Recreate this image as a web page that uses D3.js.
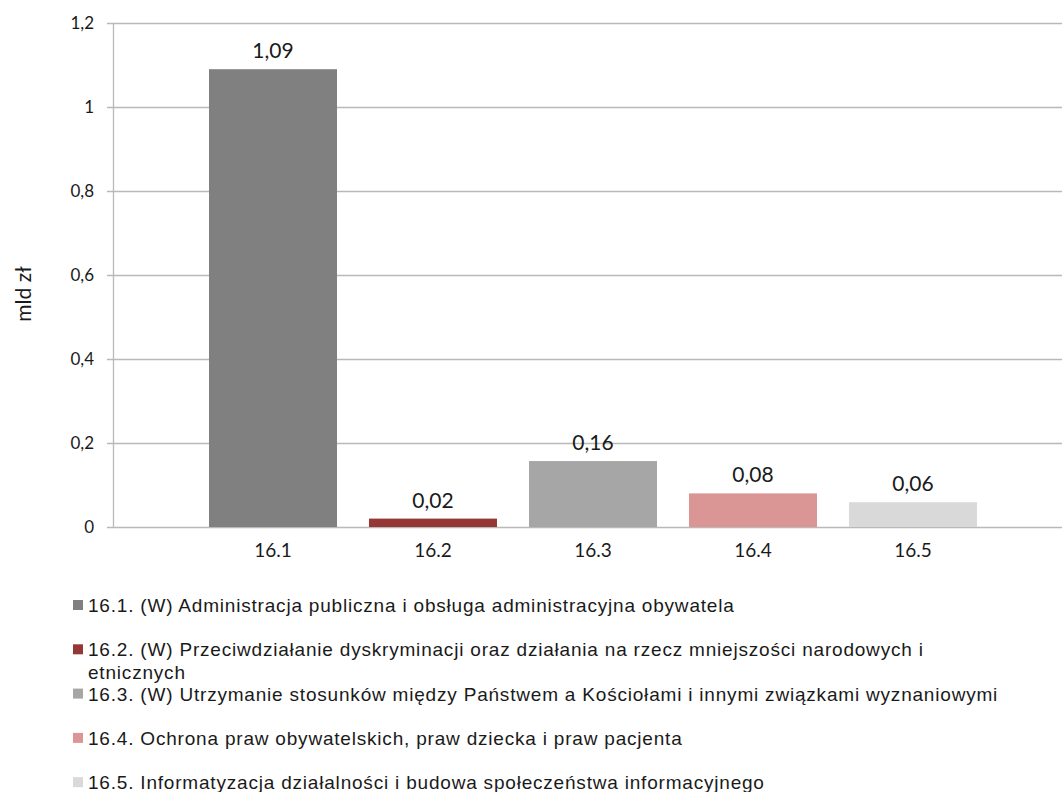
<!DOCTYPE html>
<html><head><meta charset="utf-8">
<script src="https://cdn.jsdelivr.net/npm/d3@7"></script>
<style>body{margin:0;background:#fff}svg{display:block}</style>
</head><body>
<svg id="c" width="1062" height="792"></svg>
<script>
const categories = ["16.1","16.2","16.3","16.4","16.5"];
const values = [1.09, 0.02, 0.157, 0.08, 0.059];
const valueLabels = ["1,09","0,02","0,16","0,08","0,06"];
const colors = ["#808080","#953735","#a6a6a6","#d99694","#d9d9d9"];
const yTicks = [0,0.2,0.4,0.6,0.8,1,1.2];
const yTickLabels = ["0","0,2","0,4","0,6","0,8","1","1,2"];
const legendLabels = [
  ["16.1. (W) Administracja publiczna i obsługa administracyjna obywatela"],
  ["16.2. (W) Przeciwdziałanie dyskryminacji oraz działania na rzecz mniejszości narodowych i","etnicznych"],
  ["16.3. (W) Utrzymanie stosunków między Państwem a Kościołami i innymi związkami wyznaniowymi"],
  ["16.4. Ochrona praw obywatelskich, praw dziecka i praw pacjenta"],
  ["16.5. Informatyzacja działalności i budowa społeczeństwa informacyjnego"]
];
const yTitle = "mld zł";

(function(){
const svg = d3.select("#c");
const pL = 113, pR = 1062, pT = 23, pB = 527;
const y = d3.scaleLinear().domain([0,1.2]).range([pB, pT]);
const x = d3.scaleBand().domain(categories).range([193, 993]).paddingInner(0.2).paddingOuter(0.1);
const gridCol = "#b9b9b9";
const numFont = "Lato, 'Open Sans', sans-serif";

svg.append("g").selectAll("line").data(yTicks).join("line")
  .attr("x1", pL - 6).attr("x2", pR)
  .attr("y1", d => Math.round(y(d)) + 0.5).attr("y2", d => Math.round(y(d)) + 0.5)
  .attr("stroke", gridCol).attr("stroke-width", 1.3);
svg.append("line").attr("x1", pL + 0.5).attr("x2", pL + 0.5)
  .attr("y1", pT).attr("y2", pB).attr("stroke", gridCol).attr("stroke-width", 1.3);

svg.append("g").selectAll("text").data(yTicks).join("text")
  .attr("x", 94).attr("y", d => y(d) + 6)
  .attr("text-anchor", "end").attr("font-family", numFont).attr("font-size", 17)
  .attr("fill", "#1a1a1a").text((d,i) => yTickLabels[i]);

svg.append("text").attr("transform", "translate(31,294) rotate(-90)")
  .attr("text-anchor", "middle").attr("font-family", numFont).attr("font-size", 21)
  .attr("fill", "#1a1a1a").text(yTitle);

svg.append("g").selectAll("rect").data(categories).join("rect")
  .attr("x", d => x(d)).attr("width", x.bandwidth())
  .attr("y", (d,i) => y(values[i])).attr("height", (d,i) => y(0) - y(values[i]))
  .attr("fill", (d,i) => colors[i]);

svg.append("g").selectAll("text").data(categories).join("text")
  .attr("x", d => x(d) + x.bandwidth()/2).attr("y", (d,i) => y(values[i]) - 11)
  .attr("text-anchor", "middle").attr("font-family", numFont).attr("font-size", 21)
  .attr("fill", "#1a1a1a").text((d,i) => valueLabels[i]);

svg.append("g").selectAll("text").data(categories).join("text")
  .attr("x", d => x(d) + x.bandwidth()/2).attr("y", 557)
  .attr("text-anchor", "middle").attr("font-family", numFont).attr("font-size", 19)
  .attr("fill", "#1a1a1a").text(d => d);

const lg = svg.append("g").selectAll("g").data(legendLabels).join("g")
  .attr("transform", (d,i) => `translate(0,${605 + i*44.3})`);
lg.append("rect").attr("x", 73).attr("y", -5).attr("width", 10).attr("height", 10)
  .attr("fill", (d,i) => colors[i]);
lg.append("text").attr("font-family", "'Liberation Sans', Arial, sans-serif").attr("font-size", 19)
  .attr("letter-spacing", 0.8).attr("fill", "#1a1a1a")
  .selectAll("tspan").data(d => d).join("tspan")
  .attr("x", 88).attr("y", (d,j) => 7 + j*23).text(d => d);
})();
</script>
</body></html>
